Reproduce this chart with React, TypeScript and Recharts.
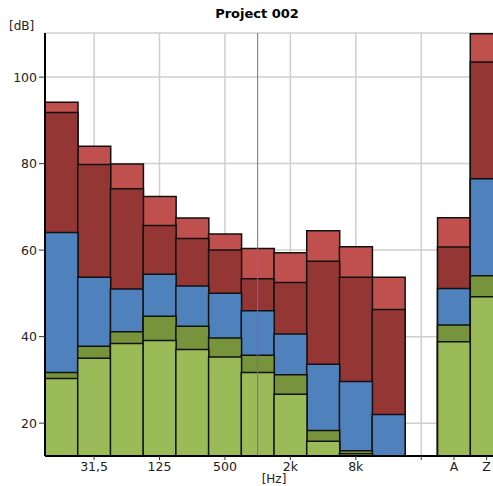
import React from 'react';
import { BarChart, Bar, XAxis, YAxis, CartesianGrid, ReferenceLine } from 'recharts';

// octave bands, then an empty slot, then the A and Z totals
const bands = ['16', '31,5', '63', '125', '250', '500', '1k', '2k', '4k', '8k', '16k', ' ', 'A', 'Z'];
const shownTicks = ['31,5', '125', '500', '2k', '8k', ' ', 'A', 'Z'];
const gridTicks = ['31,5', '125', '500', '2k', '8k', ' '];
const yTicks = [20, 40, 60, 80, 100];

// levels in dB, one array per layer (tallest layer first)
const lightRed = [94.2, 84.0, 79.9, 72.4, 67.4, 63.7, 60.4, 59.4, 64.5, 60.8, 53.7, null, 67.5, 110.0];
const darkRed = [91.8, 79.8, 74.2, 65.7, 62.7, 60.0, 53.4, 52.5, 57.4, 53.7, 46.3, null, 60.7, 103.5];
const blue = [64.1, 53.7, 51.0, 54.4, 51.7, 50.0, 46.0, 40.6, 33.6, 29.6, 22.0, null, 51.1, 76.5];
const darkGreen = [31.7, 37.8, 41.1, 44.7, 42.4, 39.7, 35.7, 31.2, 18.3, 13.6, null, null, 42.7, 54.1];
const lightGreen = [30.3, 35.0, 38.4, 39.1, 37.0, 35.3, 31.7, 26.7, 15.8, 12.9, null, null, 38.8, 49.2];

const rows = bands.map((band, i) => ({
  band,
  lr: lightRed[i],
  dr: darkRed[i],
  bl: blue[i],
  dg: darkGreen[i],
  lg: lightGreen[i],
}));

const font = '"DejaVu Sans", Verdana, sans-serif';

export default function App() {
  return (
    <div
      style={{
        position: 'fixed',
        left: 0,
        top: 0,
        width: 493,
        height: 486,
        overflow: 'hidden',
        background: '#fff',
        fontFamily: font,
      }}
    >
      <div style={{ position: 'absolute', left: 0, width: 514, top: 6, textAlign: 'center', fontSize: 13, fontWeight: 'bold', color: '#000' }}>
        Project 002
      </div>
      <div style={{ position: 'absolute', left: 9, top: 19, fontSize: 12, color: '#222' }}>[dB]</div>
      <div style={{ position: 'absolute', left: 45, width: 458, top: 472, textAlign: 'center', fontSize: 12, color: '#222' }}>
        [Hz]
      </div>
      <BarChart
        width={503}
        height={486}
        data={rows}
        margin={{ top: 33, right: 0, left: 0, bottom: 0 }}
        barCategoryGap={0}
        barGap={0}
      >
        <CartesianGrid xAxisId="grid" stroke="#cfcfcf" strokeWidth={1.5} />
        <XAxis
          xAxisId="a0"
          dataKey="band"
          ticks={shownTicks}
          interval={0}
          height={30}
          tickSize={4}
          tick={{ fontSize: 12.5, fill: '#222', fontFamily: font }}
          tickLine={{ stroke: '#333' }}
          axisLine={{ stroke: '#000', strokeWidth: 2 }}
        />
        <XAxis xAxisId="a1" dataKey="band" hide />
        <XAxis xAxisId="a2" dataKey="band" hide />
        <XAxis xAxisId="a3" dataKey="band" hide />
        <XAxis xAxisId="a4" dataKey="band" hide />
        <XAxis xAxisId="grid" dataKey="band" ticks={gridTicks} interval={0} hide />
        <YAxis
          width={45}
          domain={[12.4, 110.2]}
          ticks={yTicks}
          allowDataOverflow
          tickSize={6}
          tickMargin={2}
          tick={{ fontSize: 12.5, fill: '#222', fontFamily: font }}
          tickLine={{ stroke: '#333' }}
          axisLine={{ stroke: '#000', strokeWidth: 2 }}
        />
        <Bar xAxisId="a0" dataKey="lr" fill="#c0504d" stroke="#111" strokeWidth={1.5} isAnimationActive={false} />
        <Bar xAxisId="a1" dataKey="dr" fill="#943634" stroke="#111" strokeWidth={1.5} isAnimationActive={false} />
        <Bar xAxisId="a2" dataKey="bl" fill="#4f81bd" stroke="#111" strokeWidth={1.5} isAnimationActive={false} />
        <Bar xAxisId="a3" dataKey="dg" fill="#77933c" stroke="#111" strokeWidth={1.5} isAnimationActive={false} />
        <Bar xAxisId="a4" dataKey="lg" fill="#9bbb59" stroke="#111" strokeWidth={1.5} isAnimationActive={false} />
        <ReferenceLine xAxisId="a0" x="1k" stroke="#a050c0" strokeWidth={1} />
      </BarChart>
    </div>
  );
}
